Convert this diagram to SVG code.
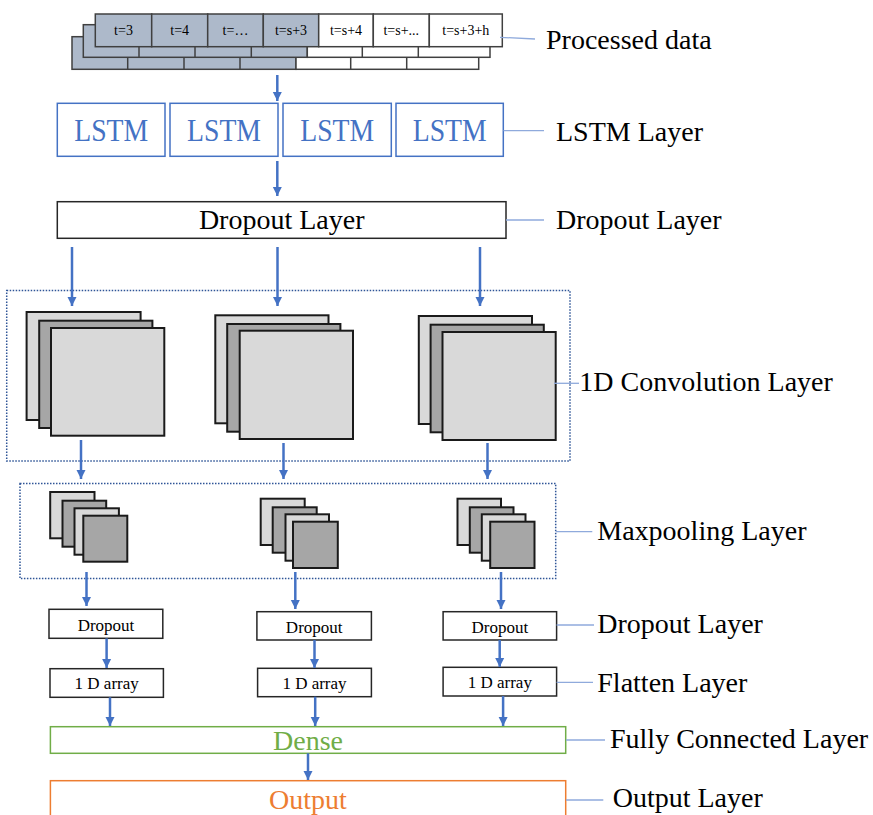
<svg xmlns="http://www.w3.org/2000/svg" width="873" height="815" viewBox="0 0 873 815">
<defs>
<marker id="ah" viewBox="0 0 10 10" refX="10" refY="5" markerWidth="9" markerHeight="10" markerUnits="userSpaceOnUse" orient="auto">
<path d="M0,0 L10,5 L0,10 z" fill="#4472C4"/>
</marker>
<style>
text{font-family:"Liberation Serif","Times New Roman",serif;}
.lbl{font-size:28px;fill:#000;}
.cellg{fill:#ADB9CA;stroke:#404040;stroke-width:1.5;}
.cellw{fill:#fff;stroke:#404040;stroke-width:1.5;}
.ct{font-size:14px;fill:#000;text-anchor:middle;}
.lstm{fill:#fff;stroke:#4472C4;stroke-width:1.5;}
.lstmt{font-size:31px;fill:#4472C4;text-anchor:middle;}
.box{fill:#fff;stroke:#262626;stroke-width:1.5;}
.bt{font-size:17px;fill:#000;text-anchor:middle;}
.lg{fill:#D9D9D9;stroke:#1a1a1a;stroke-width:2;}
.dg{fill:#A6A6A6;stroke:#1a1a1a;stroke-width:2;}
.dot{fill:none;stroke:#2F5597;stroke-width:1.5;stroke-dasharray:1.5 1.5;}
.lead{stroke:#8FAADC;stroke-width:1.3;fill:none;}
.arr{stroke:#4472C4;stroke-width:2.5;fill:none;marker-end:url(#ah);}
</style>
</defs>
<rect width="873" height="815" fill="#fff"/>

<g id="processed-data">
<rect class="cellg" x="72" y="36.7" width="224" height="32.6"/>
<rect class="cellw" x="296" y="36.7" width="182.7" height="32.6"/>
<line x1="127.7" y1="36.7" x2="127.7" y2="69.3" stroke="#404040" stroke-width="1.5"/>
<line x1="184" y1="36.7" x2="184" y2="69.3" stroke="#404040" stroke-width="1.5"/>
<line x1="240" y1="36.7" x2="240" y2="69.3" stroke="#404040" stroke-width="1.5"/>
<line x1="350.7" y1="36.7" x2="350.7" y2="69.3" stroke="#404040" stroke-width="1.5"/>
<line x1="406.7" y1="36.7" x2="406.7" y2="69.3" stroke="#404040" stroke-width="1.5"/>
<rect class="cellg" x="83.3" y="24.7" width="224" height="32.6"/>
<rect class="cellw" x="307.3" y="24.7" width="182.7" height="32.6"/>
<line x1="139" y1="24.7" x2="139" y2="57.3" stroke="#404040" stroke-width="1.5"/>
<line x1="195" y1="24.7" x2="195" y2="57.3" stroke="#404040" stroke-width="1.5"/>
<line x1="251.3" y1="24.7" x2="251.3" y2="57.3" stroke="#404040" stroke-width="1.5"/>
<line x1="362.3" y1="24.7" x2="362.3" y2="57.3" stroke="#404040" stroke-width="1.5"/>
<line x1="418.3" y1="24.7" x2="418.3" y2="57.3" stroke="#404040" stroke-width="1.5"/>
<rect class="cellg" x="95.3" y="14" width="56.4" height="32.7"/>
<rect class="cellg" x="151.7" y="14" width="56" height="32.7"/>
<rect class="cellg" x="207.7" y="14" width="55.6" height="32.7"/>
<rect class="cellg" x="263.3" y="14" width="55.4" height="32.7"/>
<rect class="cellw" x="318.7" y="14" width="54.6" height="32.7"/>
<rect class="cellw" x="373.3" y="14" width="56" height="32.7"/>
<rect class="cellw" x="429.3" y="14" width="73" height="32.7"/>
<text class="ct" x="123.5" y="35">t=3</text>
<text class="ct" x="179.7" y="35">t=4</text>
<text class="ct" x="235.5" y="35">t=…</text>
<text class="ct" x="291" y="35">t=s+3</text>
<text class="ct" x="346" y="35">t=s+4</text>
<text class="ct" x="401.3" y="35">t=s+...</text>
<text class="ct" x="465.8" y="35">t=s+3+h</text>
</g>

<g id="lstm-layer">
<rect class="lstm" x="57.3" y="103.3" width="107.7" height="53"/>
<rect class="lstm" x="170" y="103.3" width="108" height="53"/>
<rect class="lstm" x="283" y="103.3" width="108.3" height="53"/>
<rect class="lstm" x="396" y="103.3" width="107.3" height="53"/>
<text class="lstmt" x="111.2" y="141" textLength="74" lengthAdjust="spacingAndGlyphs">LSTM</text>
<text class="lstmt" x="224" y="141" textLength="74" lengthAdjust="spacingAndGlyphs">LSTM</text>
<text class="lstmt" x="337.2" y="141" textLength="74" lengthAdjust="spacingAndGlyphs">LSTM</text>
<text class="lstmt" x="449.7" y="141" textLength="74" lengthAdjust="spacingAndGlyphs">LSTM</text>
</g>

<g id="dropout-layer">
<rect class="box" x="57.3" y="201.7" width="448.7" height="36.6"/>
<text x="281.7" y="228.5" font-size="28" text-anchor="middle" fill="#000">Dropout Layer</text>
</g>

<g id="conv-layer">
<rect class="dot" x="6.7" y="290.5" width="563.3" height="170.5"/>
<rect class="lg" x="26.6" y="312" width="114" height="108"/>
<rect class="dg" x="39.2" y="320.7" width="113.2" height="107.3"/>
<rect class="lg" x="51" y="328" width="113.3" height="107.7"/>
<rect class="lg" x="215.3" y="315.3" width="113.2" height="108"/>
<rect class="dg" x="227.2" y="324" width="113.2" height="107.7"/>
<rect class="lg" x="239.7" y="330.7" width="113.3" height="108.3"/>
<rect class="lg" x="418.8" y="316" width="113.2" height="108"/>
<rect class="dg" x="430.6" y="324.7" width="113.2" height="107.6"/>
<rect class="lg" x="442.5" y="332" width="113.2" height="108"/>
</g>

<g id="maxpool-layer">
<rect class="dot" x="20" y="483.5" width="535.7" height="95"/>
<rect class="lg" x="50.2" y="492" width="44.3" height="46.3"/>
<rect class="dg" x="62.5" y="500.7" width="43.7" height="46"/>
<rect class="lg" x="74.5" y="508.3" width="44.4" height="46.4"/>
<rect class="dg" x="83.3" y="515.7" width="44" height="46"/>
<rect class="lg" x="260.7" y="498.7" width="44" height="46.3"/>
<rect class="dg" x="272.7" y="507.3" width="44" height="45.4"/>
<rect class="lg" x="285.5" y="514.3" width="43.5" height="46.4"/>
<rect class="dg" x="293" y="521.7" width="44.8" height="46.3"/>
<rect class="lg" x="457.5" y="498.7" width="43.5" height="46.3"/>
<rect class="dg" x="469.8" y="507.3" width="43.7" height="45.4"/>
<rect class="lg" x="481.8" y="514.3" width="43.7" height="46.4"/>
<rect class="dg" x="490.2" y="521.7" width="44.3" height="46.3"/>
</g>

<g id="dropout-small">
<rect class="box" x="49" y="609.3" width="113.8" height="29"/>
<rect class="box" x="256.9" y="611.7" width="114.5" height="28.3"/>
<rect class="box" x="443.1" y="611.7" width="113.5" height="28.3"/>
<text class="bt" x="106" y="630.5">Dropout</text>
<text class="bt" x="314.2" y="632.5">Dropout</text>
<text class="bt" x="499.8" y="632.5">Dropout</text>
</g>

<g id="flatten">
<rect class="box" x="50" y="668.7" width="113.4" height="28.6"/>
<rect class="box" x="257.6" y="668.3" width="113.8" height="28.4"/>
<rect class="box" x="443.1" y="667.3" width="113.5" height="28.7"/>
<text class="bt" x="106.7" y="689">1 D array</text>
<text class="bt" x="314.5" y="689">1 D array</text>
<text class="bt" x="499.8" y="688">1 D array</text>
</g>

<g id="dense">
<rect x="50.4" y="726.7" width="515.3" height="26.6" fill="#fff" stroke="#70AD47" stroke-width="1.5"/>
<text x="308" y="750" font-size="28" text-anchor="middle" fill="#70AD47">Dense</text>
</g>

<g id="output">
<rect x="50.4" y="780.7" width="515.3" height="50" fill="#fff" stroke="#ED7D31" stroke-width="1.5"/>
<text x="308" y="808.5" font-size="28" text-anchor="middle" fill="#ED7D31">Output</text>
</g>

<g id="labels">
<text class="lbl" x="546" y="49">Processed data</text>
<text class="lbl" x="556" y="140.5">LSTM Layer</text>
<text class="lbl" x="556" y="229">Dropout Layer</text>
<text class="lbl" x="579.3" y="390.7">1D Convolution Layer</text>
<text class="lbl" x="597.3" y="540">Maxpooling Layer</text>
<text class="lbl" x="597.3" y="633.3">Dropout Layer</text>
<text class="lbl" x="597.3" y="691.7">Flatten Layer</text>
<text class="lbl" x="610" y="748.3">Fully Connected Layer</text>
<text class="lbl" x="612.7" y="806.5">Output Layer</text>
</g>

<g id="connectors">
<line class="lead" x1="500" y1="37.3" x2="535" y2="39"/>
<line class="lead" x1="503.5" y1="130.7" x2="544" y2="130.7"/>
<line class="lead" x1="506" y1="220" x2="544" y2="220"/>
<line class="lead" x1="554" y1="383.3" x2="579" y2="383.3"/>
<line class="lead" x1="556" y1="531.7" x2="592.3" y2="531.7"/>
<line class="lead" x1="556.6" y1="625" x2="594" y2="625"/>
<line class="lead" x1="556.6" y1="682.3" x2="593" y2="682.3"/>
<line class="lead" x1="566" y1="740" x2="605" y2="740"/>
<line class="lead" x1="566" y1="800" x2="603.3" y2="800"/>

<line class="arr" x1="277.3" y1="75" x2="277.3" y2="101"/>
<line class="arr" x1="277.3" y1="161" x2="277.3" y2="196"/>
<line class="arr" x1="72" y1="247" x2="72" y2="306"/>
<line class="arr" x1="277.5" y1="247" x2="277.5" y2="306"/>
<line class="arr" x1="480" y1="247" x2="480" y2="306"/>
<line class="arr" x1="81" y1="440" x2="81" y2="479"/>
<line class="arr" x1="283.5" y1="443" x2="283.5" y2="479"/>
<line class="arr" x1="487.5" y1="443" x2="487.5" y2="479"/>
<line class="arr" x1="86.5" y1="572" x2="86.5" y2="606"/>
<line class="arr" x1="295.3" y1="572" x2="295.3" y2="609"/>
<line class="arr" x1="501" y1="572" x2="501" y2="609"/>
<line class="arr" x1="106.6" y1="638.3" x2="106.6" y2="668"/>
<line class="arr" x1="314.5" y1="640" x2="314.5" y2="668"/>
<line class="arr" x1="499.7" y1="640" x2="499.7" y2="667"/>
<line class="arr" x1="110" y1="697.3" x2="110" y2="726"/>
<line class="arr" x1="315.2" y1="696.7" x2="315.2" y2="726"/>
<line class="arr" x1="503.1" y1="696" x2="503.1" y2="726"/>
<line class="arr" x1="308" y1="753.3" x2="308" y2="780"/>
</g>
</svg>
